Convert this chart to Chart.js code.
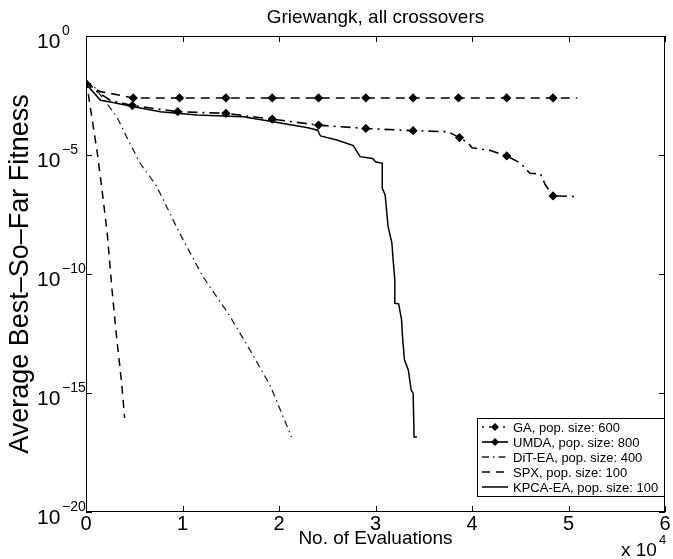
<!DOCTYPE html>
<html>
<head>
<meta charset="utf-8">
<script src="https://cdn.jsdelivr.net/npm/chart.js@4.4.1/dist/chart.umd.min.js"></script>
<style>
  html, body { margin: 0; padding: 0; background: #fff; }
  #wrap { width: 673px; height: 559px; }
</style>
</head>
<body>
<div id="wrap"><canvas id="chart" width="673" height="559"></canvas></div>
<script>
// evaluations are in units of 10^4
const gaX = [0, 0.05, 0.15, 0.34, 0.49, 0.97, 1.45, 1.93, 2.41, 2.90, 3.39, 3.86, 4.36, 4.84, 5.09]
const gaY = [1.4e-2, 7.2e-3, 4.6e-3, 3.3e-3, 2.5e-3, 2.5e-3, 2.5e-3, 2.5e-3, 2.5e-3, 2.5e-3, 2.5e-3, 2.5e-3, 2.5e-3, 2.5e-3, 2.5e-3]
const gaMarks = [0.49, 0.97, 1.45, 1.93, 2.41, 2.90, 3.39, 3.86, 4.36, 4.84]

const umdaX = [0, 0.1, 0.25, 0.48, 0.95, 1.45, 1.93, 2.41, 2.90, 3.39, 3.75, 3.87, 3.96, 4.00, 4.18, 4.36, 4.50, 4.60, 4.71, 4.76, 4.84, 5.09]
const umdaY = [1.4e-2, 5.0e-3, 2.0e-3, 1.2e-3, 6.6e-4, 5.6e-4, 3.2e-4, 1.8e-4, 1.3e-4, 1.05e-4, 9.5e-5, 5.4e-5, 3.2e-5, 2.0e-5, 1.6e-5, 9.1e-6, 4.6e-6, 1.7e-6, 1.6e-6, 5.5e-7, 1.9e-7, 1.8e-7]
const umdaMarks = [0.48, 0.95, 1.45, 1.93, 2.41, 2.90, 3.39, 3.87, 4.36, 4.84]

const ditX = [0, 0.1, 0.19, 0.32, 0.42, 0.56, 0.73, 0.97, 1.21, 1.48, 1.70, 1.91, 2.13]
const ditY = [1.4e-2, 6.3e-3, 2.0e-3, 4.0e-4, 5.8e-5, 4.6e-6, 5.0e-7, 5.2e-9, 7.9e-11, 2.0e-12, 6.3e-14, 2.0e-15, 1.4e-17]

const spxX = [0, 0.03, 0.07, 0.12, 0.17, 0.22, 0.27, 0.32, 0.37, 0.40]
const spxY = [1.4e-2, 2.5e-3, 2.2e-4, 1.0e-5, 2.5e-7, 5.2e-9, 2.1e-11, 1.7e-13, 2.5e-15, 8.9e-17]

const kpcaX = [0, 0.02, 0.15, 0.28, 0.48, 0.77, 1.15, 1.63, 1.94, 2.30, 2.40, 2.43, 2.60, 2.77, 2.84, 2.97, 3.00, 3.07, 3.07, 3.10, 3.13, 3.17, 3.18, 3.20, 3.20, 3.24, 3.27, 3.28, 3.30, 3.34, 3.37, 3.39, 3.40, 3.43]
const kpcaY = [1.4e-2, 7.9e-3, 2.0e-3, 1.6e-3, 1.1e-3, 6.6e-4, 4.8e-4, 4.0e-4, 2.5e-4, 1.4e-4, 1.1e-4, 6.3e-5, 4.3e-5, 2.5e-5, 8.5e-6, 7.2e-6, 5.2e-6, 4.5e-6, 4.0e-7, 2.1e-7, 1.0e-8, 2.0e-9, 5.4e-10, 5.6e-11, 5.9e-12, 5.6e-12, 1.2e-12, 2.3e-13, 2.5e-14, 9.3e-15, 1.3e-15, 9.8e-16, 1.4e-17, 1.4e-17]

const seriesNames = ['GA, pop. size: 600', 'UMDA, pop. size: 800', 'DiT-EA, pop. size: 400', 'SPX, pop. size: 100', 'KPCA-EA, pop. size: 100']
const xTicks = [0, 1, 2, 3, 4, 5, 6]
const yTickExps = [0, -5, -10, -15, -20]

const FONT = 'Arial, "Liberation Sans", sans-serif'

function pts(xs, ys) {
    return xs.map((x, i) => ({ x: x, y: ys[i] }))
}

function markRadius(marks) {
    return (c) => {
        const p = c.raw
        if (!p) return 0
        return marks.some(m => Math.abs(m - p.x) < 1e-6) ? 3.5 : 0
    }
}

const boxPlugin = {
    id: 'matlabBox',
    afterDraw(chart) {
        const ctx = chart.ctx
        const a = chart.chartArea
        const xs = chart.scales.x
        const ys = chart.scales.y
        ctx.save()
        ctx.strokeStyle = '#000'
        ctx.lineWidth = 1
        ctx.strokeRect(a.left + 0.5, a.top + 0.5, a.right - a.left - 1, a.bottom - a.top - 1)

        // inward ticks
        ctx.beginPath()
        xTicks.forEach(v => {
            const px = Math.round(xs.getPixelForValue(v)) + 0.5
            ctx.moveTo(px, a.bottom); ctx.lineTo(px, a.bottom - 6)
            ctx.moveTo(px, a.top); ctx.lineTo(px, a.top + 6)
        })
        yTickExps.forEach(e => {
            const py = Math.round(ys.getPixelForValue(Math.pow(10, e))) + 0.5
            ctx.moveTo(a.left, py); ctx.lineTo(a.left + 6, py)
            ctx.moveTo(a.right, py); ctx.lineTo(a.right - 6, py)
        })
        ctx.stroke()

        // y tick labels 10^e
        ctx.fillStyle = '#000'
        ctx.textBaseline = 'alphabetic'
        ctx.textAlign = 'left'
        yTickExps.forEach(e => {
            const py = ys.getPixelForValue(Math.pow(10, e))
            ctx.font = '21px ' + FONT
            ctx.fillText('10', 37, py + 12)
            ctx.font = '14px ' + FONT
            ctx.fillText(e === 0 ? '0' : '\u2212' + (-e), 62, py - 1)
        })

        // title and axis titles
        ctx.textAlign = 'center'
        ctx.font = '19px ' + FONT
        ctx.fillText('Griewangk, all crossovers', (a.left + a.right) / 2, 23)
        ctx.fillText('No. of Evaluations', (a.left + a.right) / 2, 544)

        ctx.save()
        ctx.translate(21, (a.top + a.bottom) / 2)
        ctx.rotate(-Math.PI / 2)
        ctx.font = '27px ' + FONT
        ctx.textBaseline = 'middle'
        ctx.fillText('Average Best\u2013So\u2013Far Fitness', 0, 0)
        ctx.restore()

        ctx.textAlign = 'left'
        ctx.font = '19px ' + FONT
        ctx.fillText('x 10', 621, 556)
        ctx.font = '13px ' + FONT
        ctx.fillText('4', 659, 544)

        // legend box in lower right corner
        const lw = 187, lh = 78
        const lx = a.right - lw - 1
        const ly = a.bottom - lh - 16
        ctx.fillStyle = '#fff'
        ctx.fillRect(lx, ly, lw, lh)
        ctx.strokeRect(lx + 0.5, ly + 0.5, lw, lh)
        ctx.font = '13px ' + FONT
        chart.data.datasets.forEach((ds, i) => {
            const ry = ly + 9 + i * 15
            ctx.strokeStyle = ds.borderColor
            ctx.lineWidth = ds.borderWidth
            ctx.setLineDash(ds.legendDash || ds.borderDash || [])
            ctx.beginPath()
            ctx.moveTo(lx + 5, ry); ctx.lineTo(lx + 31, ry)
            ctx.stroke()
            ctx.setLineDash([])
            if (ds.markers) {
                ctx.fillStyle = '#000'
                ctx.beginPath()
                ctx.moveTo(lx + 18, ry - 4); ctx.lineTo(lx + 22, ry)
                ctx.lineTo(lx + 18, ry + 4); ctx.lineTo(lx + 14, ry)
                ctx.closePath(); ctx.fill()
            }
            ctx.fillStyle = '#000'
            ctx.textBaseline = 'middle'
            ctx.fillText(ds.label, lx + 36, ry + 1)
        })
        ctx.restore()
    }
}

const ctx = document.getElementById('chart').getContext('2d')
const myChart = new Chart(ctx, {
    type: 'line',
    data: {
        datasets: [
            {
                label: seriesNames[0],
                data: pts(gaX, gaY),
                borderColor: '#000',
                backgroundColor: '#000',
                borderWidth: 1.6,
                borderDash: [9, 6],
                legendDash: [2, 5],
                pointStyle: 'rectRot',
                pointRadius: markRadius(gaMarks),
                markers: true
            },
            {
                label: seriesNames[1],
                data: pts(umdaX, umdaY),
                borderColor: '#000',
                backgroundColor: '#000',
                borderWidth: 1.6,
                borderDash: [10, 5, 2, 5],
                legendDash: [],
                pointStyle: 'rectRot',
                pointRadius: markRadius(umdaMarks),
                markers: true
            },
            {
                label: seriesNames[2],
                data: pts(ditX, ditY),
                borderColor: '#222',
                borderWidth: 1.3,
                borderDash: [7, 4, 1.5, 4],
                pointRadius: 0
            },
            {
                label: seriesNames[3],
                data: pts(spxX, spxY),
                borderColor: '#000',
                borderWidth: 1.5,
                borderDash: [8, 6],
                pointRadius: 0
            },
            {
                label: seriesNames[4],
                data: pts(kpcaX, kpcaY),
                borderColor: '#000',
                borderWidth: 1.5,
                pointRadius: 0
            }
        ]
    },
    options: {
        responsive: false,
        animation: false,
        tension: 0,
        layout: { padding: { top: 36, right: 8, left: 0, bottom: 0 } },
        plugins: {
            legend: { display: false },
            tooltip: { enabled: false },
            title: { display: false }
        },
        scales: {
            x: {
                type: 'linear',
                min: 0,
                max: 6,
                grid: { display: false, drawTicks: false },
                border: { display: false },
                afterBuildTicks: (s) => { s.ticks = xTicks.map(v => ({ value: v })) },
                afterFit: (s) => { s.height = 47 },
                ticks: {
                    color: '#000',
                    padding: 0,
                    maxRotation: 0,
                    font: { size: 20, family: FONT },
                    callback: (v) => v
                }
            },
            y: {
                type: 'logarithmic',
                min: 1e-20,
                max: 1,
                grid: { display: false, drawTicks: false },
                border: { display: false },
                afterFit: (s) => { s.width = 86 },
                ticks: { display: false }
            }
        }
    },
    plugins: [boxPlugin]
});
</script>
</body>
</html>
